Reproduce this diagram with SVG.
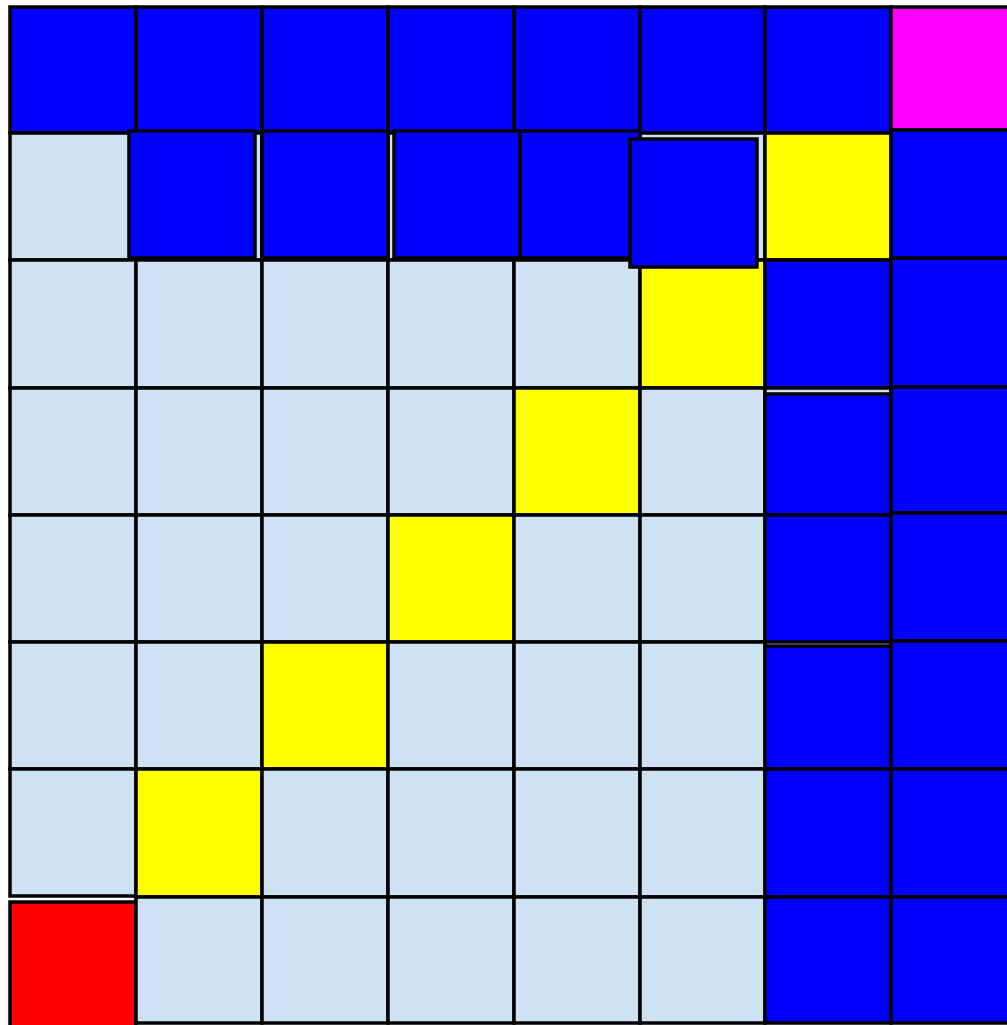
<svg xmlns="http://www.w3.org/2000/svg" width="1007" height="1025" viewBox="0 0 1007 1025">
<style>
rect{stroke:#000;stroke-width:3.5}
.b{fill:#0000FF}.l{fill:#CFE2F3}.y{fill:#FFFF00}.m{fill:#FF00FF}.r{fill:#FF0000}
</style>
<rect x="0" y="0" width="1007" height="1025" fill="#fff" style="stroke:none"/>
<g id="row0">
<rect class="b" x="10" y="7" width="126" height="126"/>
<rect class="b" x="136" y="7" width="126" height="126"/>
<rect class="b" x="262" y="7" width="126" height="126"/>
<rect class="b" x="388" y="7" width="126" height="126"/>
<rect class="b" x="514" y="7" width="126" height="126"/>
<rect class="b" x="640" y="7" width="125" height="126"/>
<rect class="b" x="765" y="7" width="126" height="126"/>
<rect class="m" x="891" y="7" width="126" height="123"/>
</g>
<g id="row1">
<rect class="l" x="10" y="133" width="126" height="127"/>
<rect class="l" x="136" y="133" width="126" height="127"/>
<rect class="l" x="262" y="133" width="126" height="127"/>
<rect class="l" x="388" y="133" width="126" height="127"/>
<rect class="l" x="514" y="133" width="126" height="127"/>
<rect class="l" x="640" y="133" width="125" height="127"/>
<rect class="y" x="765" y="133" width="126" height="127"/>
<rect class="b" x="891" y="130" width="126" height="128"/>
</g>
<g id="row2">
<rect class="l" x="10" y="260" width="126" height="128"/>
<rect class="l" x="136" y="260" width="126" height="128"/>
<rect class="l" x="262" y="260" width="126" height="128"/>
<rect class="l" x="388" y="260" width="126" height="128"/>
<rect class="l" x="514" y="260" width="126" height="128"/>
<rect class="y" x="640" y="260" width="125" height="128"/>
<rect class="b" x="765" y="260" width="126" height="128"/>
<rect class="b" x="891" y="258" width="126" height="129"/>
</g>
<g id="row3">
<rect class="l" x="10" y="388" width="126" height="127"/>
<rect class="l" x="136" y="388" width="126" height="127"/>
<rect class="l" x="262" y="388" width="126" height="127"/>
<rect class="l" x="388" y="388" width="126" height="127"/>
<rect class="y" x="514" y="388" width="126" height="127"/>
<rect class="l" x="640" y="388" width="125" height="127"/>
<rect class="l" x="765" y="388" width="126" height="127"/>
<rect class="b" x="765" y="394" width="126" height="121"/>
<rect class="b" x="891" y="387" width="126" height="126"/>
</g>
<g id="row4">
<rect class="l" x="10" y="515" width="126" height="127"/>
<rect class="l" x="136" y="515" width="126" height="127"/>
<rect class="l" x="262" y="515" width="126" height="127"/>
<rect class="y" x="388" y="515" width="126" height="127"/>
<rect class="l" x="514" y="515" width="126" height="127"/>
<rect class="l" x="640" y="515" width="125" height="127"/>
<rect class="b" x="765" y="515" width="126" height="127"/>
<rect class="b" x="891" y="513" width="126" height="128"/>
</g>
<g id="row5">
<rect class="l" x="10" y="642" width="126" height="127"/>
<rect class="l" x="136" y="642" width="126" height="127"/>
<rect class="y" x="262" y="642" width="126" height="127"/>
<rect class="l" x="388" y="642" width="126" height="127"/>
<rect class="l" x="514" y="642" width="126" height="127"/>
<rect class="l" x="640" y="642" width="125" height="127"/>
<rect class="b" x="765" y="646" width="126" height="123"/>
<rect class="b" x="891" y="641" width="126" height="128"/>
</g>
<g id="row6">
<rect class="l" x="10" y="769" width="126" height="127"/>
<rect class="y" x="136" y="769" width="126" height="128"/>
<rect class="l" x="262" y="769" width="126" height="128"/>
<rect class="l" x="388" y="769" width="126" height="128"/>
<rect class="l" x="514" y="769" width="126" height="128"/>
<rect class="l" x="640" y="769" width="125" height="128"/>
<rect class="b" x="765" y="769" width="126" height="128"/>
<rect class="b" x="891" y="769" width="126" height="128"/>
</g>
<g id="row7">
<rect class="r" x="10" y="902" width="126" height="126"/>
<rect class="l" x="136" y="897" width="126" height="126"/>
<rect class="l" x="262" y="897" width="126" height="126"/>
<rect class="l" x="388" y="897" width="126" height="126"/>
<rect class="l" x="514" y="897" width="126" height="126"/>
<rect class="l" x="640" y="897" width="125" height="126"/>
<rect class="b" x="765" y="897" width="126" height="126"/>
<rect class="b" x="891" y="897" width="126" height="126"/>
</g>
<g id="overlays">
<rect class="b" x="129" y="131" width="126" height="127"/>
<rect class="b" x="262" y="131" width="126" height="127"/>
<rect class="b" x="394" y="131" width="126" height="127"/>
<rect class="b" x="520" y="131" width="120" height="127"/>
<rect class="b" x="630" y="139" width="127" height="128"/>
</g>
</svg>
